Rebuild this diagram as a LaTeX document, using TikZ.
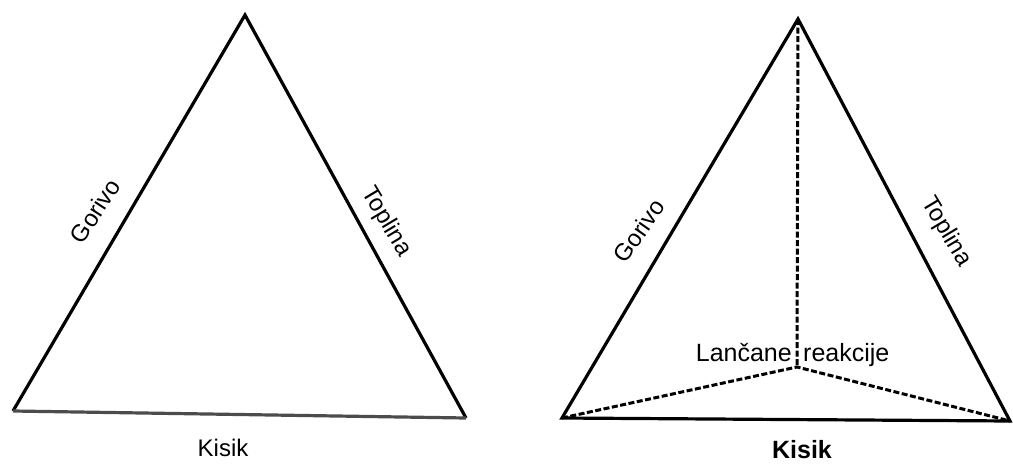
\documentclass[tikz,border=0pt]{standalone}
\usepackage{fontspec}
\setmainfont{Liberation Sans}
\begin{document}
\begin{tikzpicture}[x=1pt,y=-1pt,
  edge/.style={line width=3.2pt,line join=miter},
  hidden/.style={line width=3pt,dash pattern=on 6pt off 2.5pt},
  lbl/.style={font=\fontsize{24}{27}\selectfont,inner sep=0pt}]
\useasboundingbox (0,0) rectangle (1013,464);
% left triangle
\coordinate (LA) at (245,15);
\coordinate (LB) at (13,411);
\coordinate (LC) at (466,418);
\draw[edge] (LB) -- (LA) -- (LC);
\draw[edge,black!70] (LB) -- (LC);
\node[lbl,rotate=57] (g1) at (95,211) {Gorivo};
\node[lbl,rotate=-59] (t1) at (386,222) {Toplina};
\node[lbl] (k1) at (223,448) {Kisik};
% right triangle
\coordinate (RA) at (798,19);
\coordinate (RB) at (562,418);
\coordinate (RC) at (1010,421);
\coordinate (RO) at (797,367);
\draw[edge] (RB) -- (RA) -- (RC) -- cycle;
\draw[hidden] (RA) -- (RO);
\draw[hidden] (RB) -- (RO) -- (RC);
\node[lbl,rotate=55] (g2) at (639,231) {Gorivo};
\node[lbl,rotate=-59] (t2) at (946,232) {Toplina};
\node[lbl,font=\fontsize{25}{28}\selectfont,anchor=base east] (l2) at (792,361) {Lančane};
\node[lbl,font=\fontsize{25}{28}\selectfont,anchor=base west] (r2) at (803,361) {reakcije};
\node[lbl,font=\fontsize{25}{28}\selectfont\bfseries] (k2) at (802,450) {Kisik};
\end{tikzpicture}
\end{document}
